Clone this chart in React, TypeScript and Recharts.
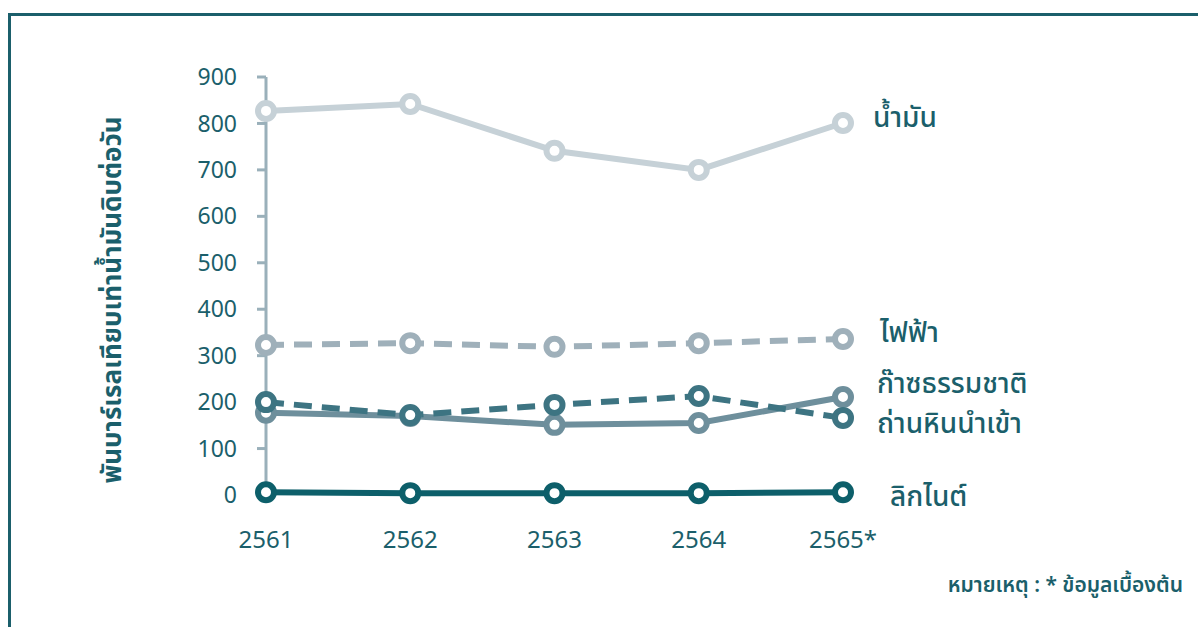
import { LineChart, Line, XAxis, YAxis, LabelList } from 'recharts';

// Years (Thai Buddhist calendar), last one is preliminary
const years = ['2561', '2562', '2563', '2564', '2565*'];

// Thousand barrels of crude oil equivalent per day
const oil = [827, 842, 741, 700, 801];
const electricity = [323, 327, 319, 327, 336];
const naturalGas = [177, 170, 151, 155, 211];
const importedCoal = [200, 172, 194, 213, 166];
const lignite = [6, 4, 4, 4, 6];

const yTicks = [0, 100, 200, 300, 400, 500, 600, 700, 800, 900];

const TEAL = '#1b5f6b';

const series = [
  { key: 'oil', name: 'น้ำมัน', color: '#c6d1d7', dash: undefined, dx: 30, dy: -7 },
  { key: 'electricity', name: 'ไฟฟ้า', color: '#9fb0ba', dash: '18 10', dx: 37, dy: -8 },
  { key: 'gas', name: 'ก๊าซธรรมชาติ', color: '#6e8f9c', dash: undefined, dx: 34, dy: -15 },
  { key: 'coal', name: 'ถ่านหินนำเข้า', color: '#3d7482', dash: '18 10', dx: 34, dy: 4 },
  { key: 'lignite', name: 'ลิกไนต์', color: '#0d5f6a', dash: undefined, dx: 47, dy: 3 },
];

const chartData = years.map((year, i) => ({
  year,
  oil: oil[i],
  electricity: electricity[i],
  gas: naturalGas[i],
  coal: importedCoal[i],
  lignite: lignite[i],
}));

const font = '"Noto Sans", "Noto Sans Thai", Tahoma, sans-serif';

function endLabel(name: string, dx: number, dy: number) {
  return (props: any) => {
    if (props.index !== years.length - 1) return null;
    return (
      <text
        x={props.x + dx}
        y={props.y + dy}
        fill={TEAL}
        fontSize={28}
        fontWeight={500}
        fontFamily={font}
        dominantBaseline="central"
      >
        {name}
      </text>
    );
  };
}

export default function App() {
  return (
    <div style={{ position: 'absolute', left: 0, top: 0, width: 1198, height: 627, background: '#fff', fontFamily: font }}>
      <div
        style={{
          position: 'absolute',
          left: 8,
          top: 13,
          width: 1190,
          height: 614,
          borderTop: `3px solid ${TEAL}`,
          borderLeft: `3px solid ${TEAL}`,
        }}
      />
      <div
        style={{
          position: 'absolute',
          left: 113,
          top: 300,
          transform: 'translate(-50%, -50%) rotate(-90deg)',
          whiteSpace: 'nowrap',
          color: TEAL,
          fontSize: 26,
          fontWeight: 700,
        }}
      >
        พันบาร์เรลเทียบเท่าน้ำมันดิบต่อวัน
      </div>
      <div style={{ position: 'absolute', left: 0, top: 0 }}>
        <LineChart width={1198} height={627} data={chartData} margin={{ top: 77, right: 355, bottom: 92, left: 186 }}>
          <XAxis
            dataKey="year"
            axisLine={false}
            tickLine={false}
            height={40}
            tick={{ fill: TEAL, fontSize: 24, fontFamily: font }}
            dy={28}
            interval={0}
            padding={{ left: 0, right: 0 }}
          />
          <YAxis
            width={80}
            domain={[0, 900]}
            ticks={yTicks}
            interval={0}
            axisLine={{ stroke: '#9ab0ba', strokeWidth: 3 }}
            tickLine={{ stroke: '#9ab0ba', strokeWidth: 3 }}
            tickSize={9}
            tick={{ fill: TEAL, fontSize: 23, fontFamily: font }}
            dx={-18}
          />
          {series.map((s) => (
            <Line
              key={s.key}
              dataKey={s.key}
              name={s.name}
              type="linear"
              stroke={s.color}
              strokeWidth={6}
              strokeDasharray={s.dash}
              dot={{ r: 8, fill: '#fff', stroke: s.color, strokeWidth: 6, strokeDasharray: '' }}
              isAnimationActive={false}
            >
              <LabelList dataKey={s.key} content={endLabel(s.name, s.dx, s.dy)} />
            </Line>
          ))}
        </LineChart>
      </div>
      <div
        style={{
          position: 'absolute',
          right: 15,
          top: 570,
          color: TEAL,
          fontSize: 21,
          fontWeight: 600,
          whiteSpace: 'nowrap',
        }}
      >
        หมายเหตุ : * ข้อมูลเบื้องต้น
      </div>
    </div>
  );
}
